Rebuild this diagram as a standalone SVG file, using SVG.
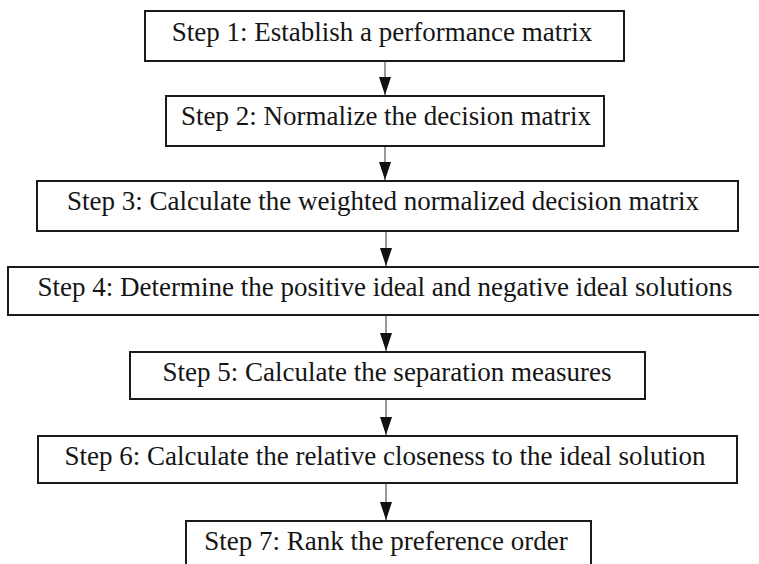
<svg xmlns="http://www.w3.org/2000/svg" width="759" height="564" viewBox="0 0 759 564">
<style>
.box{fill:#fff;stroke:#1a1a1a;stroke-width:2}
.lbl{font-family:"Liberation Serif","Times New Roman",serif;font-size:27px;fill:#151515;text-anchor:middle}
.con{stroke:#555;stroke-width:1.2;fill:none}
</style>
<defs>
<marker id="ah" viewBox="0 -6 18 12" markerWidth="18" markerHeight="12" refX="18" refY="0" orient="auto" markerUnits="userSpaceOnUse">
<path d="M0,-6 L18,0 L0,6 z" fill="#111"/>
</marker>
</defs>
<rect width="759" height="564" fill="#fff"/>
<g id="connectors">
<line class="con" x1="385" y1="62" x2="385" y2="95" marker-end="url(#ah)"/>
<line class="con" x1="385" y1="147" x2="385" y2="180" marker-end="url(#ah)"/>
<line class="con" x1="386" y1="232" x2="386" y2="266" marker-end="url(#ah)"/>
<line class="con" x1="386" y1="316" x2="386" y2="351" marker-end="url(#ah)"/>
<line class="con" x1="386" y1="400" x2="386" y2="435" marker-end="url(#ah)"/>
<line class="con" x1="386" y1="484" x2="386" y2="520" marker-end="url(#ah)"/>
</g>
<g id="step1"><rect class="box" x="145" y="11" width="479" height="50"/><text class="lbl" x="382" y="41">Step 1: Establish a performance matrix</text></g>
<g id="step2"><rect class="box" x="166" y="96" width="438" height="50"/><text class="lbl" x="386" y="125">Step 2: Normalize the decision matrix</text></g>
<g id="step3"><rect class="box" x="37" y="181" width="701" height="50"/><text class="lbl" x="383" y="210">Step 3: Calculate the weighted normalized decision matrix</text></g>
<g id="step4"><rect class="box" x="8" y="267" width="756" height="48"/><text class="lbl" x="385" y="296">Step 4: Determine the positive ideal and negative ideal solutions</text></g>
<g id="step5"><rect class="box" x="130" y="352" width="515" height="47"/><text class="lbl" x="387" y="381">Step 5: Calculate the separation measures</text></g>
<g id="step6"><rect class="box" x="38" y="436" width="699" height="47"/><text class="lbl" x="385" y="465">Step 6: Calculate the relative closeness to the ideal solution</text></g>
<g id="step7"><rect class="box" x="186" y="521" width="405" height="60"/><text class="lbl" x="386" y="550">Step 7: Rank the preference order</text></g>
</svg>
